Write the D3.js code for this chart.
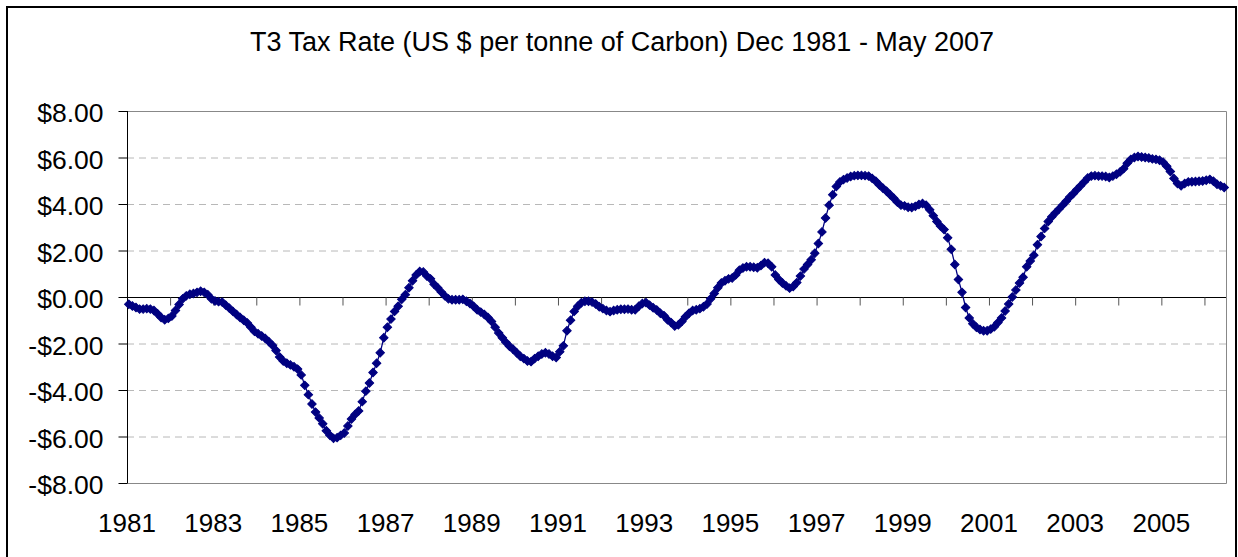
<!DOCTYPE html>
<html>
<head>
<meta charset="utf-8">
<script src="https://cdn.jsdelivr.net/npm/d3@7"></script>
<style>
  body { margin: 0; background: #fff; }
  svg { display: block; font-family: "Liberation Sans", Arial, sans-serif; }
</style>
</head>
<body>
<div id="chart"></div>
<script>
"use strict"

const WIDTH = 1238;
const HEIGHT = 557;

const TITLE = "T3 Tax Rate (US $ per tonne of Carbon) Dec 1981 - May 2007";

// monthly, Dec 1981 .. May 2007 (one row = Dec..Nov)
const taxRate = [
  -0.31, -0.39, -0.45, -0.52, -0.52, -0.50, -0.52, -0.58, -0.72, -0.88, -0.98, -0.92,
  -0.82, -0.58, -0.32, -0.08, 0.05, 0.12, 0.15, 0.20, 0.25, 0.20, 0.10, -0.08,
  -0.17, -0.20, -0.22, -0.35, -0.48, -0.62, -0.75, -0.88, -1.00, -1.12, -1.30, -1.48,
  -1.58, -1.68, -1.78, -1.92, -2.08, -2.30, -2.58, -2.75, -2.85, -2.92, -3.00, -3.10,
  -3.35, -3.80, -4.20, -4.60, -4.95, -5.20, -5.45, -5.75, -5.95, -6.08, -6.05, -5.95,
  -5.85, -5.55, -5.25, -5.05, -4.90, -4.50, -4.05, -3.70, -3.25, -2.85, -2.40, -1.75,
  -1.30, -0.95, -0.62, -0.40, -0.10, 0.10, 0.40, 0.70, 0.95, 1.10, 1.08, 0.90,
  0.78, 0.55, 0.40, 0.22, 0.05, -0.08, -0.12, -0.12, -0.12, -0.10, -0.18, -0.28,
  -0.40, -0.55, -0.65, -0.75, -0.88, -1.05, -1.30, -1.55, -1.75, -1.95, -2.12, -2.25,
  -2.40, -2.55, -2.65, -2.75, -2.78, -2.65, -2.55, -2.45, -2.40, -2.45, -2.55, -2.60,
  -2.35, -2.10, -1.45, -1.00, -0.62, -0.40, -0.25, -0.18, -0.18, -0.22, -0.30, -0.42,
  -0.50, -0.58, -0.63, -0.58, -0.55, -0.53, -0.53, -0.52, -0.55, -0.55, -0.40, -0.28,
  -0.24, -0.35, -0.46, -0.56, -0.70, -0.80, -0.98, -1.10, -1.25, -1.20, -1.05, -0.85,
  -0.70, -0.58, -0.55, -0.50, -0.42, -0.30, -0.08, 0.15, 0.40, 0.60, 0.70, 0.78,
  0.82, 0.95, 1.15, 1.25, 1.30, 1.30, 1.28, 1.26, 1.35, 1.48, 1.45, 1.30,
  0.95, 0.75, 0.60, 0.48, 0.38, 0.45, 0.62, 0.90, 1.20, 1.40, 1.60, 1.88,
  2.30, 2.80, 3.40, 3.95, 4.40, 4.75, 4.95, 5.05, 5.12, 5.18, 5.22, 5.23,
  5.23, 5.22, 5.20, 5.10, 4.98, 4.82, 4.68, 4.55, 4.40, 4.25, 4.08, 3.95,
  3.92, 3.86, 3.85, 3.90, 3.98, 4.02, 3.95, 3.75, 3.50, 3.25, 3.05, 2.90,
  2.55, 2.05, 1.40, 0.75, 0.20, -0.45, -0.90, -1.15, -1.30, -1.40, -1.45, -1.45,
  -1.38, -1.28, -1.10, -0.90, -0.60, -0.30, 0.00, 0.30, 0.60, 0.85, 1.30, 1.55,
  1.80, 2.25, 2.60, 2.95, 3.25, 3.45, 3.62, 3.78, 3.95, 4.12, 4.30, 4.45,
  4.62, 4.78, 4.95, 5.12, 5.20, 5.22, 5.20, 5.20, 5.18, 5.14, 5.20, 5.28,
  5.38, 5.52, 5.75, 5.92, 6.00, 6.04, 6.02, 6.00, 5.98, 5.94, 5.92, 5.88,
  5.80, 5.62, 5.40, 5.10, 4.88, 4.78, 4.88, 4.95, 4.96, 4.97, 4.98, 4.99,
  5.02, 5.06, 4.98, 4.85, 4.78, 4.71
];

const yTicks = [-8, -6, -4, -2, 0, 2, 4, 6, 8];
const yearLabels = ["1981", "1983", "1985", "1987", "1989", "1991", "1993",
                    "1995", "1997", "1999", "2001", "2003", "2005"];

const PLOT = { left: 127, right: 1226, top: 111, bottom: 483 };

var svg = d3.select("#chart").append("svg")
  .attr("width", WIDTH)
  .attr("height", HEIGHT);

svg.append("rect")
  .attr("width", WIDTH).attr("height", HEIGHT)
  .attr("fill", "#fff");

// outer chart border
svg.append("rect")
  .attr("x", 7).attr("y", 7)
  .attr("width", 1229).attr("height", 570)
  .attr("fill", "none")
  .attr("stroke", "#000")
  .attr("stroke-width", 2);

svg.append("text")
  .attr("x", 622).attr("y", 51)
  .attr("text-anchor", "middle")
  .attr("font-size", 27)
  .text(TITLE);

var x = d3.scaleLinear()
  .domain([0, taxRate.length])
  .range([PLOT.left, PLOT.right]);

var y = d3.scaleLinear()
  .domain([-8, 8])
  .range([PLOT.bottom, PLOT.top]);

var fmt = function(v) { return (v < 0 ? "-$" : "$") + Math.abs(v).toFixed(2); };

// gridlines
svg.append("g")
  .selectAll("line")
  .data(yTicks.filter(function(d) { return d !== 0 && Math.abs(d) !== 8; }))
  .enter().append("line")
    .attr("x1", PLOT.left).attr("x2", PLOT.right)
    .attr("y1", function(d) { return y(d) + 0.5; })
    .attr("y2", function(d) { return y(d) + 0.5; })
    .attr("stroke", "#b8b8b8")
    .attr("stroke-dasharray", "7,5");

// plot area frame (top, right, bottom)
svg.append("path")
  .attr("d", "M" + PLOT.left + "," + (PLOT.top + 0.5) + "H" + (PLOT.right + 0.5) +
             "V" + (PLOT.bottom + 0.5) + "H" + PLOT.left)
  .attr("fill", "none")
  .attr("stroke", "#888");

// y axis
var yAxis = d3.axisLeft(y)
  .tickValues(yTicks)
  .tickSize(9)
  .tickPadding(15)
  .tickFormat(fmt);

var gy = svg.append("g")
  .attr("transform", "translate(" + (PLOT.left + 0.5) + ",0)")
  .call(yAxis);
gy.select(".domain").attr("stroke", "#000").attr("d", "M0," + PLOT.top + "V" + PLOT.bottom);
gy.selectAll(".tick line").attr("stroke", "#000");
gy.selectAll(".tick text")
  .attr("font-size", 26.5)
  .attr("font-family", "Liberation Sans, Arial, sans-serif")
  .attr("fill", "#000")
  .attr("dy", "0.4em");

// x axis along zero line, ticks every 12 months
var xAxis = d3.axisBottom(x)
  .tickValues(d3.range(12, taxRate.length, 12))
  .tickSize(8)
  .tickFormat("");

var gx = svg.append("g")
  .attr("transform", "translate(0," + (y(0) + 0.5) + ")")
  .call(xAxis);
gx.select(".domain").attr("stroke", "#000").attr("d", "M" + PLOT.left + ",0H" + PLOT.right);
gx.selectAll(".tick line").attr("stroke", "#555");

// year labels under the plot, every 24 months
svg.append("g")
  .selectAll("text")
  .data(yearLabels)
  .enter().append("text")
    .attr("x", function(d, i) { return x(i * 24); })
    .attr("y", 532)
    .attr("text-anchor", "middle")
    .attr("font-size", 26)
    .text(function(d) { return d; });

// series
var line = d3.line()
  .x(function(d, i) { return x(i + 0.5); })
  .y(function(d) { return y(d); });

svg.append("path")
  .datum(taxRate)
  .attr("d", line)
  .attr("fill", "none")
  .attr("stroke", "#000080")
  .attr("stroke-width", 1.3);

var diamond = d3.symbol().type(d3.symbolSquare).size(36);

svg.append("g")
  .selectAll("path")
  .data(taxRate)
  .enter().append("path")
    .attr("d", diamond)
    .attr("transform", function(d, i) {
      return "translate(" + x(i + 0.5) + "," + y(d) + ") rotate(45)";
    })
    .attr("fill", "#000080")
    .attr("stroke", "#000080")
    .attr("stroke-width", 1);
</script>
</body>
</html>
